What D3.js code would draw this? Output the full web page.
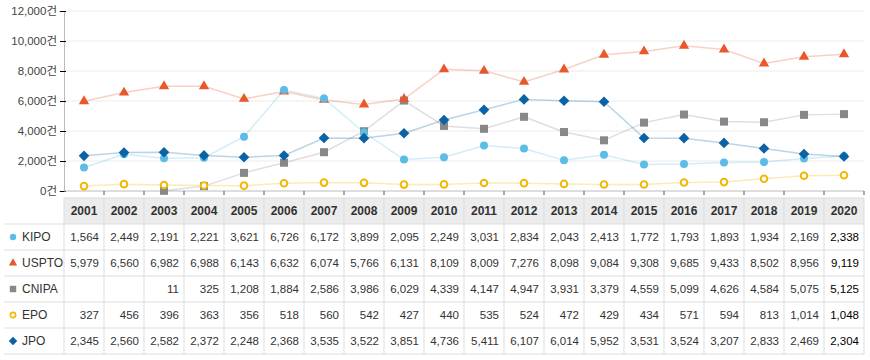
<!DOCTYPE html>
<meta charset="utf-8">
<head>
    <title>Patent filings by office</title>
    <script src="https://cdn.jsdelivr.net/npm/d3@7"></script>
    <style>
        body { margin: 0; background: #fff; }
        text { font-family: "Liberation Sans", "Noto Sans CJK KR", sans-serif; }
    </style>
</head>
<body>
    <script>
        years = ["2001","2002","2003","2004","2005","2006","2007","2008","2009","2010",
                 "2011","2012","2013","2014","2015","2016","2017","2018","2019","2020"]
        kipo  = [1564,2449,2191,2221,3621,6726,6172,3899,2095,2249,3031,2834,2043,2413,1772,1793,1893,1934,2169,2338]
        uspto = [5979,6560,6982,6988,6143,6632,6074,5766,6131,8109,8009,7276,8098,9084,9308,9685,9433,8502,8956,9119]
        cnipa = [null,null,11,325,1208,1884,2586,3986,6029,4339,4147,4947,3931,3379,4559,5099,4626,4584,5075,5125]
        epo   = [327,456,396,363,356,518,560,542,427,440,535,524,472,429,434,571,594,813,1014,1048]
        jpo   = [2345,2560,2582,2372,2248,2368,3535,3522,3851,4736,5411,6107,6014,5952,3531,3524,3207,2833,2469,2304]
        yTicks = [0,2000,4000,6000,8000,10000,12000]

        series = [
            {name:"KIPO",  values:kipo,  color:"#5bbde6", shape:"circle"},
            {name:"USPTO", values:uspto, color:"#e9572b", shape:"triangle"},
            {name:"CNIPA", values:cnipa, color:"#888888", shape:"square"},
            {name:"EPO",   values:epo,   color:"#f2b705", shape:"ring"},
            {name:"JPO",   values:jpo,   color:"#0b63a5", shape:"diamond"}
        ]
        drawOrder = ["CNIPA","USPTO","KIPO","EPO","JPO"]

        w = 870
        h = 360
        margin = {top: 11, left: 64, right: 6}
        plotBottom = 191

        let svg = d3.select("body").append("svg")
            .attr("width", w)
            .attr("height", h)

        let x = d3.scaleBand().domain(years).range([margin.left, w - margin.right])
        let y = d3.scaleLinear().domain([0, 12000]).range([plotBottom, margin.top])
        const fmt = d3.format(",")

        // grid
        svg.append("g").selectAll("line")
            .data(yTicks.slice(1))
            .enter().append("line")
            .attr("x1", margin.left).attr("x2", w - margin.right)
            .attr("y1", d => y(d)).attr("y2", d => y(d))
            .attr("stroke", "#ebebeb")

        // y axis
        let yAxis = svg.append("g")
            .attr("transform", "translate(" + margin.left + ",0)")
            .call(d3.axisLeft(y).tickValues(yTicks).tickSize(5).tickFormat(d => fmt(d) + "건"))
        yAxis.select(".domain").attr("stroke", "#bbb")
        yAxis.selectAll(".tick line").attr("stroke", "#000").attr("x2", 2).attr("x1", -4)
        yAxis.selectAll(".tick text").attr("x", -7).attr("fill", "#444").attr("font-size", 11.5)
            .style("font-family", "'Liberation Sans', 'Noto Sans CJK KR', sans-serif")

        // x axis with ticks on band edges
        svg.append("line")
            .attr("x1", margin.left).attr("x2", w - margin.right)
            .attr("y1", plotBottom).attr("y2", plotBottom)
            .attr("stroke", "#bbb")
        svg.append("g").selectAll("line")
            .data(years.slice(1).concat(["end"]))
            .enter().append("line")
            .attr("x1", (d, i) => x(years[0]) + (i + 1) * x.bandwidth())
            .attr("x2", (d, i) => x(years[0]) + (i + 1) * x.bandwidth())
            .attr("y1", plotBottom).attr("y2", plotBottom + 4)
            .attr("stroke", "#555")

        cx = d => x(d) + x.bandwidth() / 2

        // lines
        let line = d3.line()
            .defined(d => d.v !== null)
            .x(d => cx(d.year))
            .y(d => y(d.v))

        series.forEach(function (s) {
            let pts = years.map((yr, i) => ({year: yr, v: s.values[i]}))
            svg.append("path")
                .datum(pts)
                .attr("d", line)
                .attr("fill", "none")
                .attr("stroke", s.color)
                .attr("stroke-opacity", 0.28)
                .attr("stroke-width", 1.5)
        })

        function marker(g, shape, color, size) {
            if (shape === "circle") {
                g.append("circle").attr("r", 4 * size).attr("fill", color)
            } else if (shape === "ring") {
                g.append("circle").attr("r", 3.3 * size).attr("fill", "#fff")
                    .attr("stroke", color).attr("stroke-width", 2 * size)
            } else if (shape === "triangle") {
                g.append("path").attr("d", d3.symbol(d3.symbolTriangle, 46 * size * size)).attr("fill", color)
            } else if (shape === "square") {
                g.append("rect").attr("x", -4 * size).attr("y", -4 * size)
                    .attr("width", 8 * size).attr("height", 8 * size).attr("fill", color)
            } else if (shape === "diamond") {
                g.append("path").attr("d", "M0," + (-5.3 * size) + "L" + (5.3 * size) + ",0L0," + (5.3 * size) + "L" + (-5.3 * size) + ",0Z")
                    .attr("fill", color)
            }
        }

        // markers
        drawOrder.forEach(function (name) {
            let s = series.find(o => o.name === name)
            years.forEach(function (yr, i) {
                if (s.values[i] === null) return
                let g = svg.append("g").attr("transform", "translate(" + cx(yr) + "," + y(s.values[i]) + ")")
                marker(g, s.shape, s.color, 1)
            })
        })

        // table
        tableTop = 198
        rowH = 26
        let table = svg.append("g").attr("id", "table")

        table.append("rect")
            .attr("x", margin.left).attr("y", tableTop)
            .attr("width", x.bandwidth() * years.length).attr("height", rowH)
            .attr("fill", "#ececec")

        // horizontal rules
        for (let r = 1; r <= series.length + 1; r++) {
            table.append("line")
                .attr("x1", 4).attr("x2", w - margin.right)
                .attr("y1", tableTop + r * rowH).attr("y2", tableTop + r * rowH)
                .attr("stroke", "#dddddd")
        }
        table.append("line")
            .attr("x1", margin.left).attr("x2", w - margin.right)
            .attr("y1", tableTop).attr("y2", tableTop)
            .attr("stroke", "#dddddd")
        // vertical rules
        for (let c = 0; c <= years.length; c++) {
            let xx = margin.left + c * x.bandwidth()
            table.append("line")
                .attr("x1", xx).attr("x2", xx)
                .attr("y1", tableTop).attr("y2", tableTop + rowH * (series.length + 1))
                .attr("stroke", "#dddddd")
        }

        table.selectAll(".hdr")
            .data(years)
            .enter().append("text")
            .attr("class", "hdr")
            .attr("x", d => cx(d))
            .attr("y", tableTop + rowH / 2 + 4)
            .attr("text-anchor", "middle")
            .attr("font-size", 12)
            .attr("font-weight", "bold")
            .attr("fill", "#333")
            .text(d => d)

        series.forEach(function (s, r) {
            let rowY = tableTop + (r + 1) * rowH + rowH / 2
            let g = table.append("g").attr("transform", "translate(13," + rowY + ")")
            marker(g, s.shape, s.color, 0.8)
            table.append("text")
                .attr("x", 22).attr("y", rowY + 4)
                .attr("font-size", 12).attr("fill", "#333")
                .text(s.name)
            table.append("g").selectAll("text")
                .data(s.values)
                .enter().append("text")
                .attr("x", (d, i) => x(years[i]) + x.bandwidth() - 5)
                .attr("y", rowY + 4)
                .attr("text-anchor", "end")
                .attr("font-size", 11.5)
                .attr("fill", (d, i) => i === years.length - 1 ? "#000" : "#333")
                .text(d => d === null ? "" : fmt(d))
        })
    </script>
</body>
</html>
